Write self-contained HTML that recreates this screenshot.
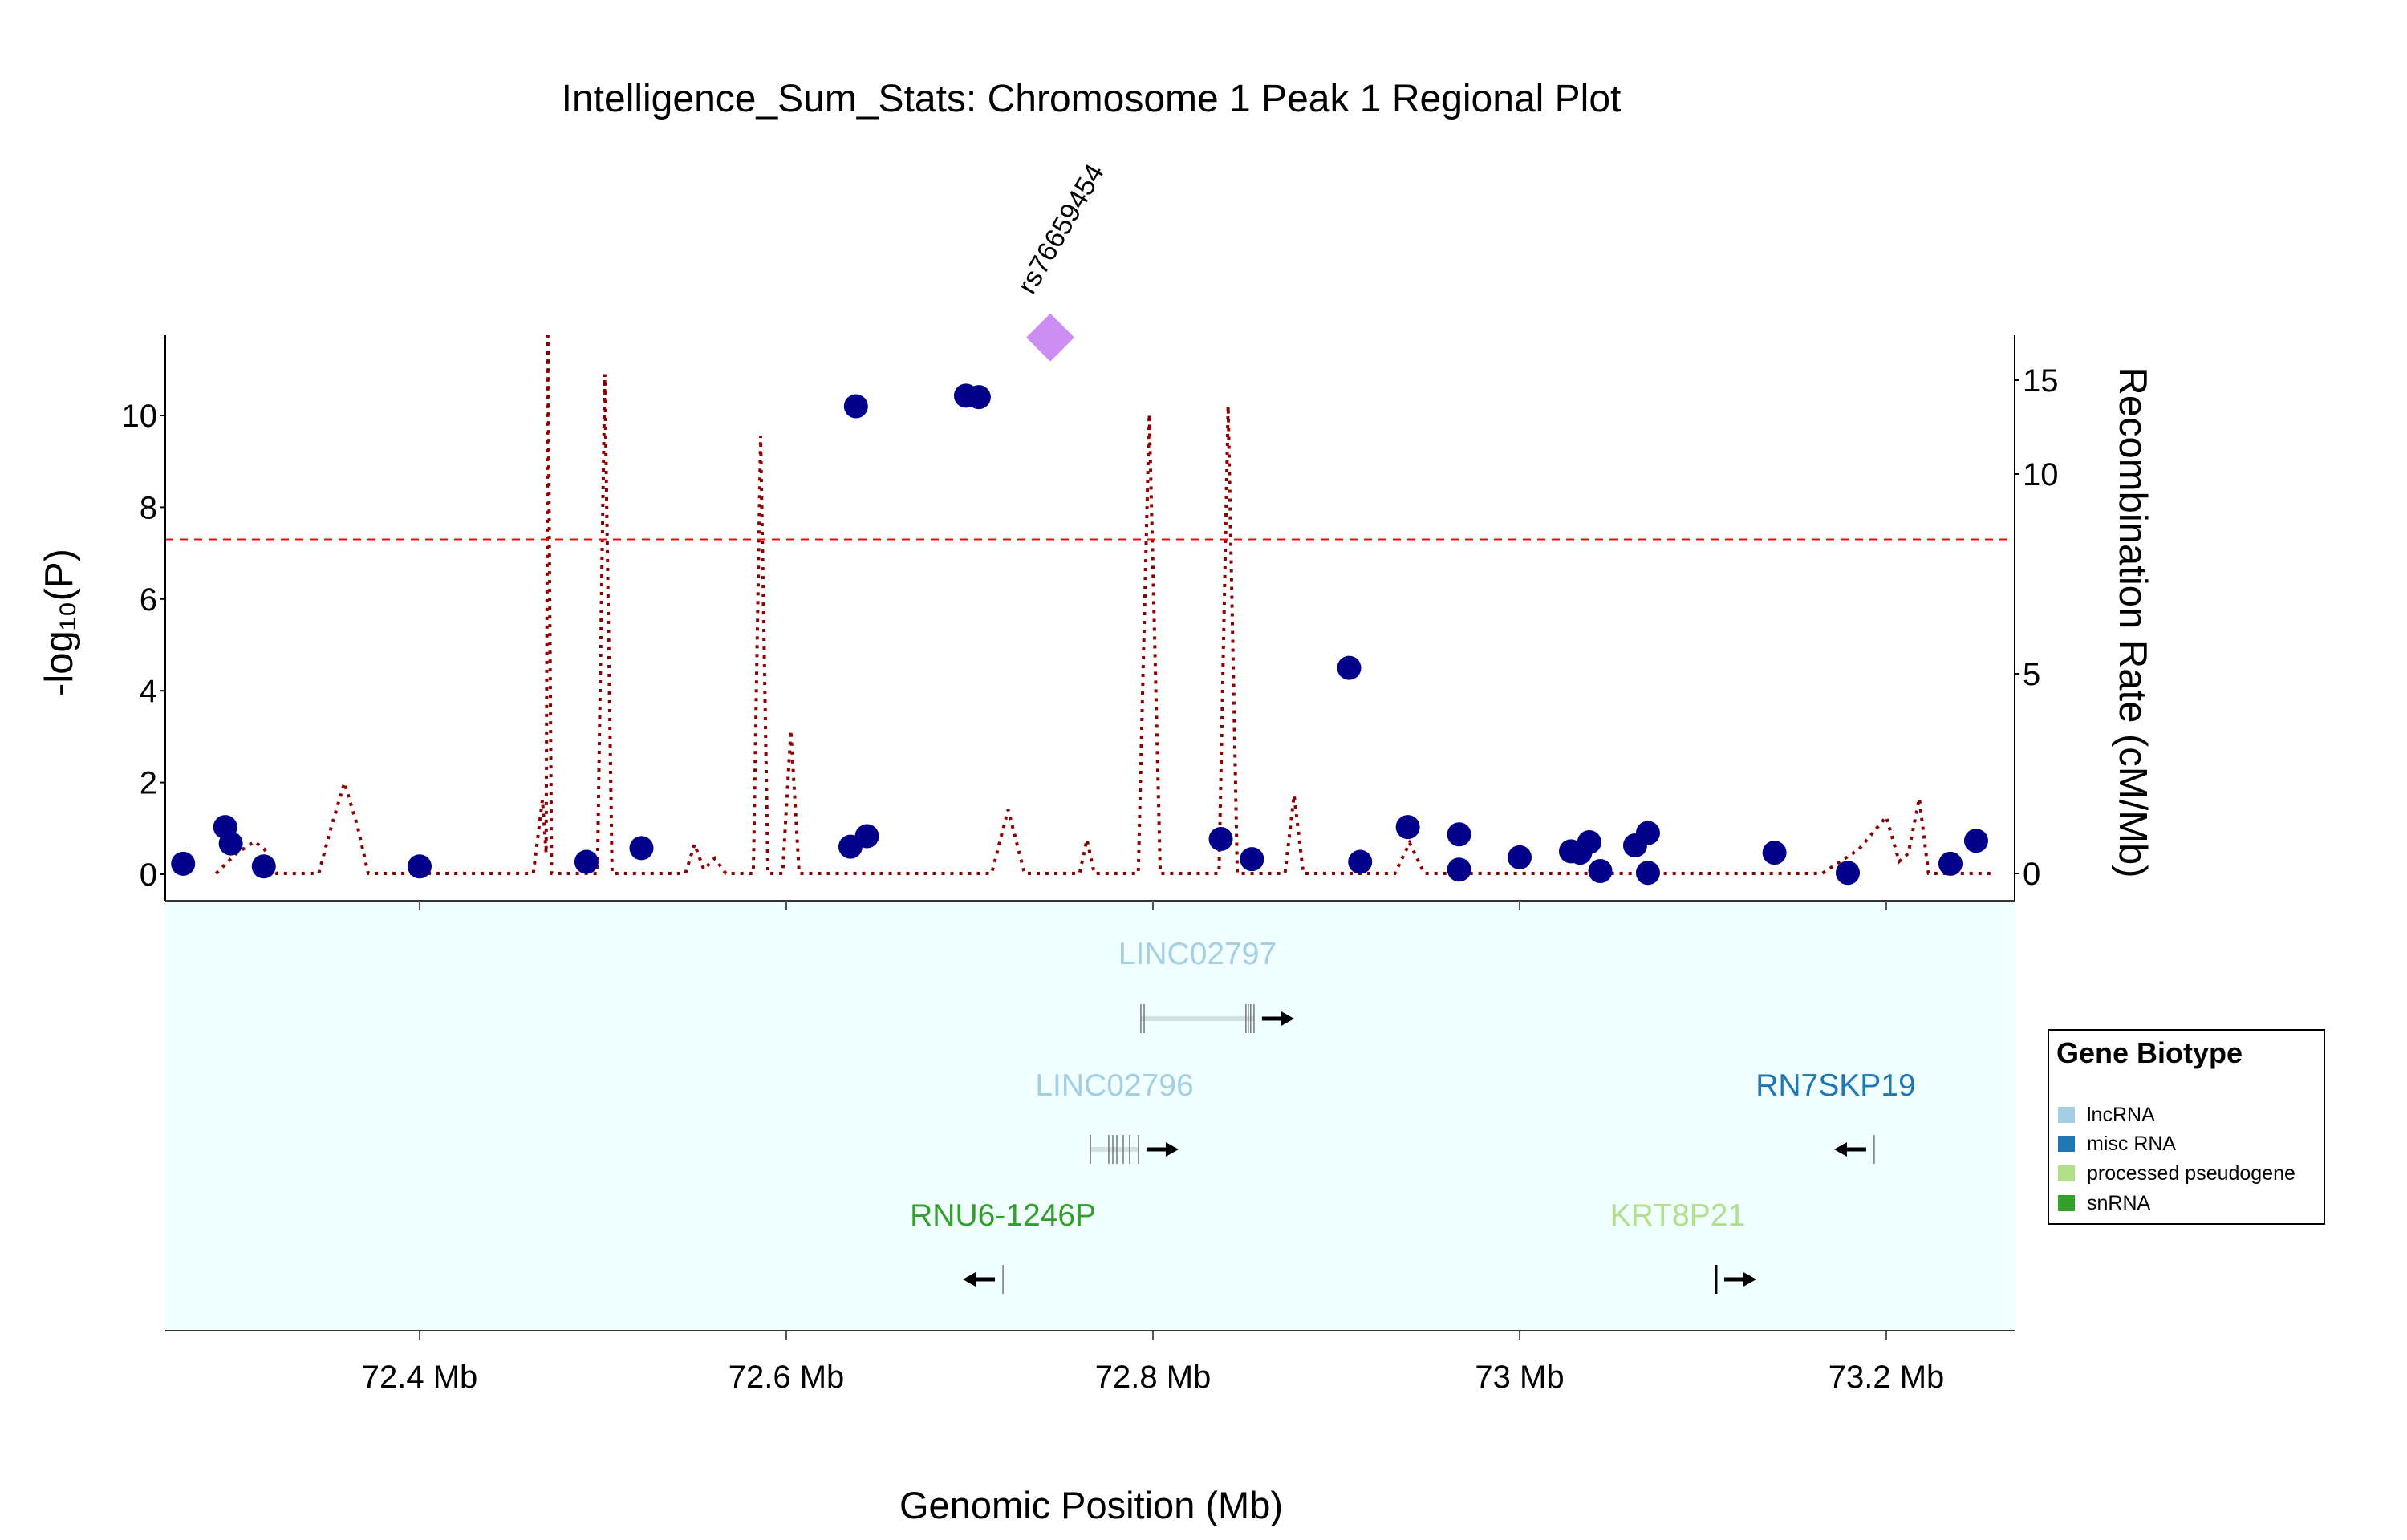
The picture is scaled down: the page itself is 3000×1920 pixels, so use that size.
<!DOCTYPE html>
<html><head><meta charset="utf-8"><style>
html,body{margin:0;padding:0;background:#fff;}
svg{display:block;font-family:"Liberation Sans",sans-serif;}
</style></head><body>
<svg id="chart" width="3000" height="1920" viewBox="0 0 3000 1920" xmlns="http://www.w3.org/2000/svg">
<text x="1360" y="139" font-size="48" text-anchor="middle">Intelligence_Sum_Stats: Chromosome 1 Peak 1 Regional Plot</text>
<rect x="206" y="1123" width="2305" height="536" fill="#f0ffff"/>
<g id="recG"></g>
<g id="axes"></g>
<g id="points"></g>
<g id="genes"></g>
<text transform="translate(90,776) rotate(-90)" font-size="49" text-anchor="middle">-log₁₀(P)</text>
<text transform="translate(2642,776) rotate(90)" font-size="49" text-anchor="middle">Recombination Rate (cM/Mb)</text>
<text x="1360" y="1893" font-size="47" text-anchor="middle">Genomic Position (Mb)</text>
<g>
<rect x="2553" y="1284" width="344" height="242" fill="#fff" stroke="#000" stroke-width="2"/>
<text x="2563" y="1325" font-size="36" font-weight="bold">Gene Biotype</text>
<rect x="2565" y="1380" width="21" height="20" fill="#a6cee3"/>
<text x="2601" y="1398" font-size="25">lncRNA</text>
<rect x="2565" y="1416" width="21" height="20" fill="#1f78b4"/>
<text x="2601" y="1434" font-size="25">misc RNA</text>
<rect x="2565" y="1453" width="21" height="20" fill="#b2df8a"/>
<text x="2601" y="1471" font-size="25">processed pseudogene</text>
<rect x="2565" y="1490" width="21" height="20" fill="#33a02c"/>
<text x="2601" y="1508" font-size="25">snRNA</text>
</g>
</svg>
<script>
const snpPos = [72.271,72.294,72.297,72.315,72.400,72.491,72.521,72.635,72.644,72.638,72.698,72.705,72.837,72.854,72.907,72.913,72.939,72.967,72.967,73.000,73.028,73.033,73.038,73.044,73.063,73.070,73.070,73.139,73.179,73.235,73.249];
const snpLogP = [0.23,1.03,0.67,0.17,0.17,0.27,0.57,0.60,0.83,10.2,10.43,10.4,0.77,0.33,4.5,0.27,1.03,0.87,0.1,0.37,0.5,0.47,0.7,0.07,0.63,0.9,0.03,0.47,0.03,0.23,0.73];
const leadPos = [72.744];
const leadLogP = [11.7];
const leadName = ["rs76659454"];
const recPos = [72.289,72.300,72.310,72.3155,72.322, 72.345,72.352,72.359,72.366,72.372, 72.462,72.467,72.469,72.470,72.472, 72.497,72.501,72.505, 72.545,72.550,72.555,72.561,72.567, 72.582,72.586,72.590, 72.598,72.6025,72.607, 72.712,72.721,72.730, 72.760,72.764,72.768, 72.792,72.798,72.804, 72.836,72.841,72.846, 72.872,72.877,72.882, 72.932,72.940,72.948, 73.165,73.185,73.200,73.207,73.212,73.218,73.223, 73.257];
const recVal = [0,0.5,0.8,0.6,0, 0,1.2,2.27,1.2,0, 0,1.85,0.5,13.5,0, 0,12.5,0, 0,0.73,0.1,0.38,0, 0,10.96,0, 0,3.58,0, 0,1.6,0, 0,0.85,0, 0,11.5,0, 0,11.7,0, 0,1.96,0, 0,0.77,0, 0,0.6,1.42,0.3,0.5,1.88,0, 0];
const yTicks = [0,2,4,6,8,10];
const recTicks = [0,5,10,15];
const recTickY = [1089,840,591,474];
const xTicks = [72.4,72.6,72.8,73.0,73.2];
const xTickLabels = ["72.4 Mb","72.6 Mb","72.8 Mb","73 Mb","73.2 Mb"];
const threshold = [7.3];
const geneNames = ["LINC02797","LINC02796","RNU6-1246P","RN7SKP19","KRT8P21"];
const geneStart = [72.7934,72.7659,72.7182,73.1934,73.1072];
const geneEnd = [72.8551,72.7921,72.7182,73.1934,73.1072];
const geneLabelPos = [72.8243,72.7790,72.7182,73.1724,73.0862];
const geneStrand = [1,1,-1,-1,1];
const geneRow = [0,1,2,1,2];
const geneColor = ["#a6cee3","#a6cee3","#33a02c","#1f78b4","#b2df8a"];
const geneExons = [[72.7934,72.7952,72.8507,72.8520,72.8533,72.8551],[72.7659,72.7759,72.7781,72.7803,72.7838,72.7873,72.7921],[72.7182],[73.1934],[73.1072]];

const NS="http://www.w3.org/2000/svg";
const X0=206,X1=2511,YT=418,YB=1123;
const xs=v=>523+(v-72.4)*2285;
const ys=v=>1090-v*57.2;
const rs=v=>1089-v*49.8;
function mk(tag,attrs,parent){const e=document.createElementNS(NS,tag);for(const k in attrs)e.setAttribute(k,attrs[k]);parent.appendChild(e);return e;}
const axes=document.getElementById('axes'),pts=document.getElementById('points'),genes=document.getElementById('genes'),recG=document.getElementById('recG');

let d=recPos.map((p,i)=>(i?'L':'M')+xs(p).toFixed(1)+','+Math.max(YT,rs(recVal[i])).toFixed(1)).join(' ');
const rl=mk('path',{d:d,fill:'none',stroke:'#8b0000','stroke-width':4,'stroke-dasharray':'4,7'},recG);


const th=mk('line',{x1:X0,x2:X1,y1:ys(threshold[0]),y2:ys(threshold[0]),stroke:'#ff0000','stroke-width':2,'stroke-dasharray':'10,8'},axes);


const la=mk('line',{x1:X0,x2:X0,y1:YT,y2:YB,stroke:'#000','stroke-width':2},axes);


const ra=mk('line',{x1:X1,x2:X1,y1:YT,y2:YB,stroke:'#000','stroke-width':2},axes);


const ba=mk('line',{x1:X0,x2:X1,y1:YB,y2:YB,stroke:'#333','stroke-width':2},axes);


const ga=mk('line',{x1:X0,x2:X1,y1:1659,y2:1659,stroke:'#333','stroke-width':2},axes);


yTicks.forEach(v=>{
  mk('line',{x1:X0-6,x2:X0,y1:ys(v),y2:ys(v),stroke:'#000','stroke-width':2},axes);
  const t=mk('text',{x:X0-10,y:ys(v)+14,'font-size':40,'text-anchor':'end'},axes);
  t.textContent=v;
  
  
});
recTicks.forEach((v,i)=>{
  mk('line',{x1:X1,x2:X1+6,y1:recTickY[i],y2:recTickY[i],stroke:'#000','stroke-width':2},axes);
  const t=mk('text',{x:X1+10,y:recTickY[i]+14,'font-size':40},axes);
  t.textContent=v;
  
  
});
xTicks.forEach((v,i)=>{
  mk('line',{x1:xs(v),x2:xs(v),y1:YB,y2:YB+12,stroke:'#555','stroke-width':2},axes);
  mk('line',{x1:xs(v),x2:xs(v),y1:1659,y2:1671,stroke:'#555','stroke-width':2},axes);
  const t=mk('text',{x:xs(v),y:1730,'font-size':40,'text-anchor':'middle'},axes);
  t.textContent=xTickLabels[i];
  
  
});
snpPos.forEach((p,i)=>{
  const c=mk('circle',{cx:xs(p),cy:ys(snpLogP[i]),r:15,fill:'#00008b'},pts);
  
  
});
leadPos.forEach((p,i)=>{
  const cx=xs(p),cy=ys(leadLogP[i]);
  const dm=mk('polygon',{points:`${cx},${cy-30} ${cx+30},${cy} ${cx},${cy+30} ${cx-30},${cy}`,fill:'#cc8ef5'},pts);
  
  
  const t=mk('text',{transform:`translate(${cx-22},${cy-52}) rotate(-60)`,'font-size':34},pts);
  t.textContent=leadName[i];
  
  
});
const rowY=[1270,1433,1595], labY=[1202,1366,1528];
geneNames.forEach((n,i)=>{
  const y=rowY[geneRow[i]], a=xs(geneStart[i]), b=xs(geneEnd[i]);
  const g=mk('g',{},genes);
  
  
  const t=mk('text',{x:xs(geneLabelPos[i]),y:labY[geneRow[i]],'font-size':39,'text-anchor':'middle',fill:geneColor[i]},g);
  t.textContent=n;
  
  
  if(b>a) mk('line',{x1:a,x2:b,y1:y,y2:y,stroke:'#d5e0e0','stroke-width':6},g);
  geneExons[i].forEach(e=>mk('line',{x1:xs(e),x2:xs(e),y1:y-18,y2:y+18,stroke:n==='KRT8P21'?'#000':'#777','stroke-width':n==='KRT8P21'?3:1.5},g));
  let s,f;
  if(geneStrand[i]>0){s=b+10;f=b+50;}else{s=a-10;f=a-50;}
  mk('line',{x1:s,x2:f-(geneStrand[i]>0?8:-8),y1:y,y2:y,stroke:'#000','stroke-width':5},g);
  const dir=geneStrand[i];
  mk('polygon',{points:`${f},${y} ${f-dir*16},${y-9} ${f-dir*16},${y+9}`,fill:'#000'},g);
});
</script>
</body></html>
